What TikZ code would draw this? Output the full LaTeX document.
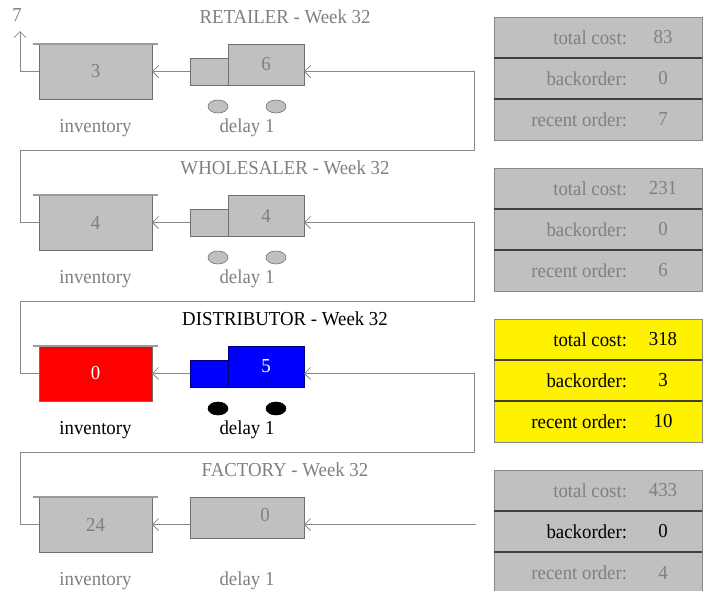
\documentclass[tikz,border=0pt]{standalone}
\usepackage{fontspec}
\setmainfont{Liberation Serif}[FakeStretch=0.95]
\usetikzlibrary{arrows.meta,shapes.geometric}
\definecolor{boxgray}{HTML}{C0C0C0}
\definecolor{txtgray}{HTML}{808080}
\definecolor{linegray}{HTML}{888888}
\definecolor{edgegray}{HTML}{707070}
\definecolor{lidgray}{HTML}{9A9A9A}
\definecolor{divdark}{HTML}{404040}
\begin{document}
\begin{tikzpicture}[x=1pt,y=-1pt,
  every node/.style={font=\fontsize{19.8}{22}\selectfont, inner sep=0pt, outer sep=0pt},
  conn/.style={draw=linegray, line width=0.8pt},
  arr/.style={-{Straight Barb[length=6pt,width=12pt,line width=0.8pt]}},
  invbox/.style={minimum width=113pt, minimum height=55pt, fill=boxgray, draw=edgegray, line width=0.8pt, text=txtgray},
  cabbox/.style={minimum width=38pt, minimum height=27pt, fill=boxgray, draw=edgegray, line width=0.8pt},
  bigbox/.style={minimum width=76pt, minimum height=41pt, fill=boxgray, draw=edgegray, line width=0.8pt},
  wheel/.style={ellipse, minimum width=20pt, minimum height=13pt, fill=boxgray, draw=edgegray, line width=0.6pt},
  lid/.style={draw=lidgray, line width=2pt},
  rowbox/.style={minimum width=208pt, minimum height=41pt, fill=boxgray, draw=linegray, line width=0.8pt},
  divider/.style={draw=divdark, line width=1.2pt},
  gtxt/.style={text=txtgray},
  btxt/.style={text=black},
  lbl/.style={anchor=east}]
\useasboundingbox (0,0) rectangle (710,590);

% ---------------- RETAILER ----------------
\node[gtxt] (rtitle) at (285,17) {RETAILER - Week 32};
\node[gtxt] (rseven) at (17,15) {7};
\coordinate (rout) at (20,31);
\node[invbox] (rinv) at (95.5,71.5) {3};
\draw[lid] ([xshift=-6pt]rinv.north west) -- ([xshift=6pt]rinv.north east);
\node[cabbox] (rcab) at (209,71.5) {};
\node[bigbox, text=txtgray] (rbig) at (266,64.5) {6};
\node[wheel] (rw1) at (218,106.5) {};
\node[wheel] (rw2) at (276,106.5) {};
\node[gtxt] (rinvl) at (95.5,128) {inventory};
\node[gtxt] (rdell) at (247,128) {delay 1};
\draw[conn,arr] (rinv.west) -| (rout);
\draw[conn,arr] (rcab.west) -- (rinv.east);

% ---------------- WHOLESALER ----------------
\node[gtxt] (wtitle) at (285,168) {WHOLESALER - Week 32};
\node[invbox] (winv) at (95.5,222.5) {4};
\draw[lid] ([xshift=-6pt]winv.north west) -- ([xshift=6pt]winv.north east);
\node[cabbox] (wcab) at (209,222.5) {};
\node[bigbox, text=txtgray] (wbig) at (266,215.5) {4};
\node[wheel] (ww1) at (218,257.5) {};
\node[wheel] (ww2) at (276,257.5) {};
\node[gtxt] (winvl) at (95.5,279) {inventory};
\node[gtxt] (wdell) at (247,279) {delay 1};
\draw[conn,arr] (wcab.west) -- (winv.east);
\coordinate (w1) at (20,150);
\coordinate (w2) at (474,150);
\draw[conn,arr] (winv.west) -| (w1) -- (w2) |- (rbig.east |- rinv.center);

% ---------------- DISTRIBUTOR ----------------
\node[btxt] (dtitle) at (285,319) {DISTRIBUTOR - Week 32};
\node[invbox, fill=red, text=white] (dinv) at (95.5,373.5) {0};
\draw[lid] ([xshift=-6pt]dinv.north west) -- ([xshift=6pt]dinv.north east);
\node[cabbox, fill=blue, draw=blue!50!black] (dcab) at (209,373.5) {};
\node[bigbox, fill=blue, draw=blue!50!black, text=white] (dbig) at (266,366.5) {5};
\node[wheel, fill=black, draw=black] (dw1) at (218,408.5) {};
\node[wheel, fill=black, draw=black] (dw2) at (276,408.5) {};
\node[btxt] (dinvl) at (95.5,430) {inventory};
\node[btxt] (ddell) at (247,430) {delay 1};
\draw[conn,arr] (dcab.west) -- (dinv.east);
\coordinate (d1) at (20,301);
\coordinate (d2) at (474,301);
\draw[conn,arr] (dinv.west) -| (d1) -- (d2) |- (wbig.east |- winv.center);

% ---------------- FACTORY ----------------
\node[gtxt] (ftitle) at (285,470) {FACTORY - Week 32};
\node[invbox] (finv) at (95.5,524.5) {24};
\draw[lid] ([xshift=-6pt]finv.north west) -- ([xshift=6pt]finv.north east);
\node[minimum width=114pt, minimum height=41pt, fill=boxgray, draw=edgegray, line width=0.8pt] (fbox) at (247,517.5) {};
\node[gtxt] (fnum) at (265,515) {0};
\node[gtxt] (finvl) at (95.5,581) {inventory};
\node[gtxt] (fdell) at (247,581) {delay 1};
\draw[conn,arr] (fbox.west |- finv.center) -- (finv.east);
\coordinate (f1) at (20,452);
\coordinate (f2) at (474,452);
\draw[conn,arr] (finv.west) -| (f1) -- (f2) |- (dbig.east |- dinv.center);
\coordinate (fin) at (476,524.5);
\draw[conn,arr] (fin) -- (fbox.east |- finv.center);

% ---------------- PANELS ----------------
% retailer
\node[rowbox] (rp1) at (598,37.5) {};
\node[rowbox] (rp2) at (598,78.5) {};
\node[rowbox] (rp3) at (598,119.5) {};
\draw[divider] (rp1.south west) -- (rp1.south east);
\draw[divider] (rp2.south west) -- (rp2.south east);
\node[gtxt,lbl] (rp1l) at (627,37.5) {total cost:};
\node[gtxt] (rp1v) at (663,37.5) {83};
\node[gtxt,lbl] (rp2l) at (627,78.5) {backorder:};
\node[gtxt] (rp2v) at (663,78.5) {0};
\node[gtxt,lbl] (rp3l) at (627,119.5) {recent order:};
\node[gtxt] (rp3v) at (663,119.5) {7};
% wholesaler
\node[rowbox] (wp1) at (598,188.5) {};
\node[rowbox] (wp2) at (598,229.5) {};
\node[rowbox] (wp3) at (598,270.5) {};
\draw[divider] (wp1.south west) -- (wp1.south east);
\draw[divider] (wp2.south west) -- (wp2.south east);
\node[gtxt,lbl] (wp1l) at (627,188.5) {total cost:};
\node[gtxt] (wp1v) at (663,188.5) {231};
\node[gtxt,lbl] (wp2l) at (627,229.5) {backorder:};
\node[gtxt] (wp2v) at (663,229.5) {0};
\node[gtxt,lbl] (wp3l) at (627,270.5) {recent order:};
\node[gtxt] (wp3v) at (663,270.5) {6};
% distributor
\node[rowbox, fill=yellow] (dp1) at (598,339.5) {};
\node[rowbox, fill=yellow] (dp2) at (598,380.5) {};
\node[rowbox, fill=yellow] (dp3) at (598,421.5) {};
\draw[divider] (dp1.south west) -- (dp1.south east);
\draw[divider] (dp2.south west) -- (dp2.south east);
\node[btxt,lbl] (dp1l) at (627,339.5) {total cost:};
\node[btxt] (dp1v) at (663,339.5) {318};
\node[btxt,lbl] (dp2l) at (627,380.5) {backorder:};
\node[btxt] (dp2v) at (663,380.5) {3};
\node[btxt,lbl] (dp3l) at (627,421.5) {recent order:};
\node[btxt] (dp3v) at (663,421.5) {10};
% factory
\node[rowbox] (fp1) at (598,490.5) {};
\node[rowbox] (fp2) at (598,531.5) {};
\node[rowbox] (fp3) at (598,572.5) {};
\draw[divider] (fp1.south west) -- (fp1.south east);
\draw[divider] (fp2.south west) -- (fp2.south east);
\node[gtxt,lbl] (fp1l) at (627,490.5) {total cost:};
\node[gtxt] (fp1v) at (663,490.5) {433};
\node[btxt,lbl] (fp2l) at (627,531.5) {backorder:};
\node[btxt] (fp2v) at (663,531.5) {0};
\node[gtxt,lbl] (fp3l) at (627,572.5) {recent order:};
\node[gtxt] (fp3v) at (663,572.5) {4};
\end{tikzpicture}
\end{document}
